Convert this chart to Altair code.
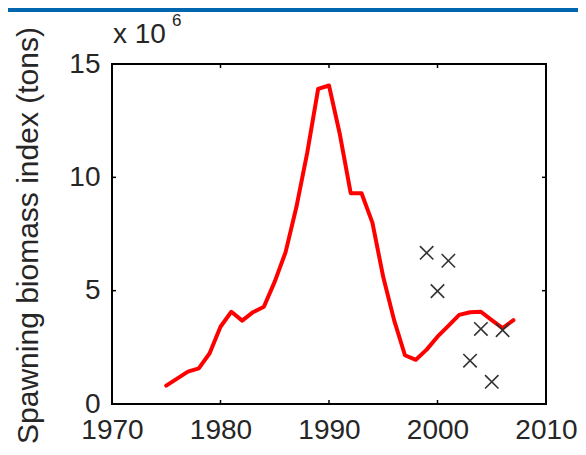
import altair as alt
import pandas as pd

# Red line: spawning biomass index (millions of tons)
years = list(range(1975, 2008))
biomass = [0.81, 1.12, 1.43, 1.57, 2.24, 3.41, 4.07, 3.68, 4.05, 4.29,
           5.40, 6.70, 8.70, 11.10, 13.90, 14.05, 11.90, 9.30, 9.30, 8.00,
           5.60, 3.70, 2.15, 1.95, 2.40, 2.97, 3.45, 3.93, 4.05, 4.07,
           3.70, 3.35, 3.70]

# Survey crosses
survey_years = [1999, 2000, 2001, 2003, 2004, 2005, 2006]
survey_vals = [6.67, 4.98, 6.32, 1.91, 3.31, 0.98, 3.26]

x_ticks = [1970, 1980, 1990, 2000, 2010]
y_ticks = [0, 5, 10, 15]
inner_x_ticks = [1980, 1990, 2000]
inner_y_ticks = [5, 10]

W, H = 434, 340
FONT = "Liberation Sans"

line_df = pd.DataFrame({"year": years, "value": biomass})
pts_df = pd.DataFrame({"year": survey_years, "value": survey_vals})
xt_df = pd.DataFrame({"year": inner_x_ticks})
yt_df = pd.DataFrame({"value": inner_y_ticks})

xscale = alt.Scale(domain=[1970, 2010], nice=False, zero=False)
yscale = alt.Scale(domain=[0, 15], nice=False)

xaxis = alt.Axis(values=x_ticks, format="d", title=None, grid=False, ticks=False,
                 tickSize=0, domain=False, labelFontSize=28, labelPadding=12,
                 labelColor="#262626", labelFont=FONT, labelFlush=False,
                 labelOverlap=False)
yaxis = alt.Axis(values=y_ticks, format="d", grid=False, ticks=False, tickSize=0,
                 domain=False, labelFontSize=28, labelPadding=12, labelColor="#262626",
                 labelFont=FONT, labelBaseline="middle", labelOverlap=False,
                 title="Spawning biomass index (tons)", titleFontSize=30,
                 titleFont=FONT, titleFontWeight="normal", titleColor="#262626",
                 titleX=-75, titleY=171, titleBaseline="alphabetic", titleAlign="center",
                 titleAngle=270)

line = alt.Chart(line_df).mark_line(color="#ff0000", strokeWidth=4,
                                    strokeJoin="round", strokeCap="round").encode(
    x=alt.X("year:Q", scale=xscale, axis=xaxis),
    y=alt.Y("value:Q", scale=yscale, axis=yaxis),
)

crosses = alt.Chart(pts_df).mark_point(
    shape="M-1,-1L1,1M-1,1L1,-1", filled=False, size=180,
    color="#333333", strokeWidth=1.6, opacity=1).encode(
    x=alt.X("year:Q", scale=xscale),
    y=alt.Y("value:Q", scale=yscale),
)

tick_style = dict(color="#000000", strokeWidth=1.5)
xt_bottom = alt.Chart(xt_df).mark_rule(**tick_style).encode(
    x=alt.X("year:Q", scale=xscale), y=alt.value(H), y2=alt.value(H - 4))
xt_top = alt.Chart(xt_df).mark_rule(**tick_style).encode(
    x=alt.X("year:Q", scale=xscale), y=alt.value(0), y2=alt.value(4))
yt_left = alt.Chart(yt_df).mark_rule(**tick_style).encode(
    y=alt.Y("value:Q", scale=yscale), x=alt.value(0), x2=alt.value(4))
yt_right = alt.Chart(yt_df).mark_rule(**tick_style).encode(
    y=alt.Y("value:Q", scale=yscale), x=alt.value(W), x2=alt.value(W - 4))

# exponent label "x 10^6"
exp_base = alt.Chart(pd.DataFrame({"t": ["x 10"]})).mark_text(
    align="left", baseline="alphabetic", fontSize=28, font=FONT, color="#262626",
    dx=1, dy=-21).encode(x=alt.datum(1970), y=alt.datum(15), text="t:N")
exp_sup = alt.Chart(pd.DataFrame({"t": ["6"]})).mark_text(
    align="left", baseline="alphabetic", fontSize=17, font=FONT, color="#262626",
    dx=60, dy=-38).encode(x=alt.datum(1970), y=alt.datum(15), text="t:N")

# blue banner at top of page
banner = alt.Chart(pd.DataFrame({"a": [0]})).mark_rect(color="#0066b0").encode(
    x=alt.value(-104), x2=alt.value(466), y=alt.value(-56), y2=alt.value(-52))

chart = alt.layer(banner, line, crosses, xt_bottom, xt_top, yt_left, yt_right,
                  exp_base, exp_sup).properties(
    width=W, height=H,
    autosize=alt.AutoSizeParams(type="none"),
    padding={"left": 104, "top": 56, "right": 32, "bottom": 43},
    background="white",
).configure_view(stroke="#000000", strokeWidth=2)

chart.save("out.html", embed_options={"renderer": "svg", "actions": False})
